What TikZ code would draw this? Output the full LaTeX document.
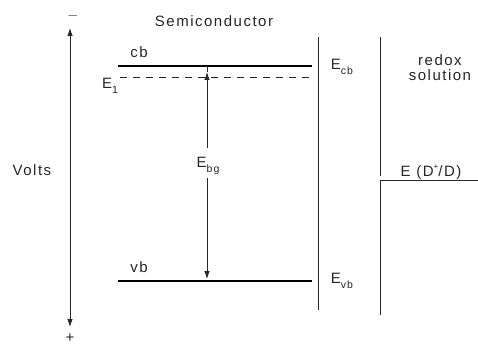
\documentclass[tikz,border=0pt]{standalone}
\usepackage{fontspec}
\setmainfont{Liberation Sans}[LetterSpace=10]
\usetikzlibrary{arrows.meta}
\newcommand\lbsub[1]{\raisebox{-0.35em}{\fontsize{10.5}{10.5}\selectfont #1}}
\newcommand\lbsup[1]{\raisebox{0.45em}{\fontsize{8}{8}\selectfont #1}}
\begin{document}
\begin{tikzpicture}[x=1pt,y=-1pt,
  lbl/.style={inner sep=0pt,font=\fontsize{15}{17}\selectfont,text=black!85},
  thinline/.style={line width=0.8pt,black!85},
  band/.style={line width=2.6pt,black},
  tip/.style={-{Latex[length=8pt,width=5.5pt]}}]
\useasboundingbox (0,0) rectangle (478,344);
% Volts axis
\coordinate (vtop) at (70,28);
\coordinate (vbot) at (70,327);
\coordinate (vmid) at (70,180);
\draw[thinline,tip] (vmid) -- (vtop);
\draw[thinline,tip] (vmid) -- (vbot);
\node[lbl] (minus) at (73,16) {$-$};
\node[lbl] (plus) at (70,338) {+};
\node[lbl] (volts) at (32,170) {Volts};
% title
\node[lbl] (semi) at (214,21) {Semiconductor};
% bands
\coordinate (cbL) at (118,66);
\coordinate (cbR) at (312,66);
\coordinate (vbL) at (118,281);
\coordinate (vbR) at (312,281);
\draw[band] (cbL) -- (cbR);
\draw[band] (vbL) -- (vbR);
\node[lbl] (cb) at (139,52) {cb};
\node[lbl] (vb) at (139,267) {vb};
% E1 dashed
\coordinate (e1L) at (120,77);
\coordinate (e1R) at (315,77);
\draw[thinline,dash pattern=on 7pt off 6pt] (e1L) -- (e1R);
\node[lbl] (e1) at (110,86) {E\lbsub{1}};
% Ebg arrow
\node[lbl] (ebg) at (208,166) {E\lbsub{bg}};
\coordinate (gtop) at (207,66);
\coordinate (gE1) at (207,72);
\coordinate (gvb) at (207,279);
\draw[thinline] (gtop) -- (gE1);
\draw[thinline,tip] (207,148) -- (gE1);
\draw[thinline,tip] (207,178) -- (gvb);
% interface
\coordinate (ifT) at (318,37);
\coordinate (ifB) at (318,310);
\draw[thinline] (ifT) -- (ifB);
\node[lbl] (ecb) at (342,67) {E\lbsub{cb}};
\node[lbl] (evb) at (342,281) {E\lbsub{vb}};
% solution side
\coordinate (sT) at (380,37);
\coordinate (sM) at (380,176);
\coordinate (sH) at (380,180);
\coordinate (sB) at (380,315);
\coordinate (sR) at (478,180);
\draw[thinline] (sT) -- (sM);
\draw[thinline] (sR) -- (sH) -- (sB);
\node[lbl,align=center] (redox) at (440,68) {redox\\[-2pt]solution};
\node[lbl] (ed) at (431,172) {E (D\lbsup{+}/D)};
\end{tikzpicture}
\end{document}
